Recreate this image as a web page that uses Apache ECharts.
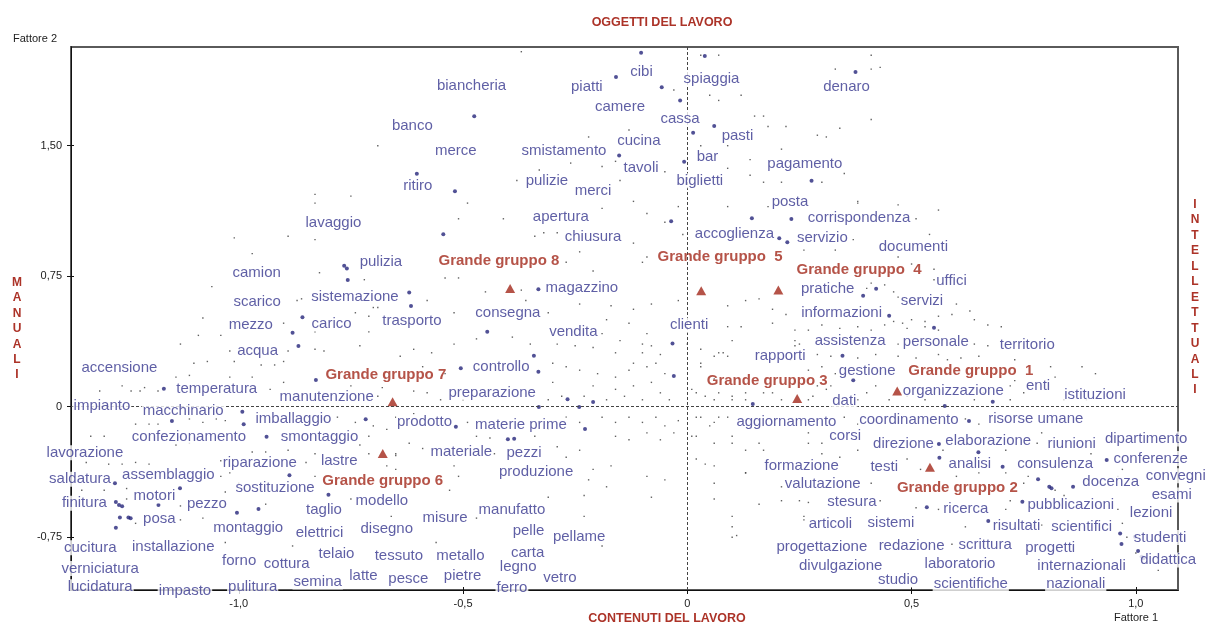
<!DOCTYPE html>
<html><head><meta charset="utf-8">
<script src="https://cdn.jsdelivr.net/npm/echarts@6/dist/echarts.min.js"></script>
<style>html,body{margin:0;padding:0;background:#fff}#c{width:1207px;height:625px}</style>
</head><body><div id="c"></div>
<script>
const FONT = "'Liberation Sans', Arial, sans-serif";
const topTitle = "OGGETTI DEL LAVORO";
const bottomTitle = "CONTENUTI DEL LAVORO";
const leftTitle = "MANUALI";
const rightTitle = "INTELLETTUALI";
const xName = "Fattore 1";
const yName = "Fattore 2";
const xTicks = [-1, -0.5, 0, 0.5, 1];
const xTickLabels = ["-1,0", "-0,5", "0", "0,5", "1,0"];
const yTicks = [-0.75, 0, 0.75, 1.5];
const yTickLabels = ["-0,75", "0", "0,75", "1,50"];
const xRange = [-1.374, 1.094];
const yRange = [-1.053, 2.067];

// word labels: [text, factor1, factor2]
const wordLabels = [
["biancheria",-0.481,1.845],["cibi",-0.102,1.925],["piatti",-0.224,1.836],["spiaggia",0.054,1.883],["camere",-0.150,1.721],["banco",-0.613,1.615],["cassa",-0.016,1.653],["pasti",0.112,1.557],["denaro",0.355,1.839],["merce",-0.516,1.470],["smistamento",-0.275,1.470],["cucina",-0.108,1.527],["bar",0.045,1.433],["tavoli",-0.103,1.370],["pagamento",0.262,1.395],["ritiro",-0.601,1.268],["pulizie",-0.313,1.297],["merci",-0.210,1.240],["biglietti",0.028,1.299],["posta",0.229,1.176],["lavaggio",-0.789,1.057],["apertura",-0.282,1.089],["corrispondenza",0.383,1.083],["chiusura",-0.210,0.974],["accoglienza",0.105,0.991],["servizio",0.301,0.968],["documenti",0.504,0.920],["pulizia",-0.683,0.833],["camion",-0.960,0.770],["uffici",0.589,0.724],["magazzino",-0.235,0.684],["pratiche",0.313,0.675],["sistemazione",-0.741,0.632],["scarico",-0.959,0.603],["servizi",0.523,0.609],["consegna",-0.400,0.540],["informazioni",0.344,0.540],["trasporto",-0.614,0.493],["carico",-0.793,0.475],["mezzo",-0.973,0.470],["clienti",0.004,0.468],["vendita",-0.254,0.429],["assistenza",0.363,0.378],["personale",0.554,0.370],["territorio",0.758,0.355],["acqua",-0.958,0.320],["rapporti",0.207,0.291],["accensione",-1.266,0.226],["controllo",-0.415,0.230],["gestione",0.401,0.207],["enti",0.782,0.119],["temperatura",-1.049,0.103],["organizzazione",0.593,0.092],["preparazione",-0.435,0.080],["istituzioni",0.909,0.067],["manutenzione",-0.804,0.054],["dati",0.350,0.031],["impianto",-1.305,0.006],["macchinario",-1.124,-0.023],["imballaggio",-0.878,-0.067],["risorse umane",0.777,-0.067],["coordinamento",0.494,-0.076],["prodotto",-0.586,-0.086],["aggiornamento",0.221,-0.086],["materie prime",-0.371,-0.105],["corsi",0.352,-0.170],["confezionamento",-1.111,-0.172],["smontaggio",-0.820,-0.172],["dipartimento",1.023,-0.186],["elaborazione",0.671,-0.195],["direzione",0.482,-0.214],["riunioni",0.857,-0.214],["materiale",-0.504,-0.259],["pezzi",-0.364,-0.264],["lavorazione",-1.343,-0.264],["conferenze",1.033,-0.297],["lastre",-0.776,-0.311],["riparazione",-0.953,-0.325],["analisi",0.630,-0.329],["consulenza",0.820,-0.331],["formazione",0.255,-0.339],["testi",0.439,-0.345],["produzione",-0.337,-0.377],["assemblaggio",-1.157,-0.393],["convegni",1.089,-0.397],["saldatura",-1.354,-0.416],["docenza",0.944,-0.431],["valutazione",0.302,-0.444],["sostituzione",-0.919,-0.466],["esami",1.080,-0.507],["motori",-1.188,-0.513],["modello",-0.681,-0.542],["stesura",0.367,-0.549],["finitura",-1.344,-0.555],["pezzo",-1.071,-0.559],["pubblicazioni",0.855,-0.565],["ricerca",0.621,-0.588],["manufatto",-0.391,-0.590],["taglio",-0.810,-0.592],["lezioni",1.034,-0.607],["misure",-0.540,-0.641],["posa",-1.177,-0.647],["sistemi",0.454,-0.670],["articoli",0.319,-0.674],["risultati",0.734,-0.686],["scientifici",0.879,-0.690],["montaggio",-0.979,-0.695],["disegno",-0.670,-0.703],["pelle",-0.354,-0.713],["elettrici",-0.820,-0.723],["pellame",-0.241,-0.747],["studenti",1.054,-0.751],["redazione",0.500,-0.799],["scrittura",0.664,-0.795],["progettazione",0.300,-0.803],["installazione",-1.146,-0.805],["cucitura",-1.331,-0.810],["progetti",0.809,-0.810],["carta",-0.356,-0.837],["telaio",-0.782,-0.843],["tessuto",-0.643,-0.856],["metallo",-0.506,-0.856],["didattica",1.072,-0.881],["forno",-0.999,-0.885],["laboratorio",0.608,-0.904],["cottura",-0.893,-0.900],["divulgazione",0.342,-0.913],["internazionali",0.879,-0.916],["legno",-0.377,-0.920],["verniciatura",-1.309,-0.929],["pietre",-0.501,-0.970],["latte",-0.722,-0.973],["vetro",-0.284,-0.986],["pesce",-0.622,-0.991],["studio",0.470,-0.996],["semina",-0.824,-1.007],["scientifiche",0.632,-1.019],["nazionali",0.866,-1.019],["lucidatura",-1.309,-1.034],["pulitura",-0.969,-1.034],["ferro",-0.391,-1.038],["impasto",-1.120,-1.057]
];

// group labels: [text, factor1, factor2] and group centroids (triangles)
const groupLabels = [
["Grande gruppo  1",0.632,0.207],["Grande gruppo 2",0.602,-0.466],["Grande gruppo 3",0.178,0.149],["Grande gruppo  4",0.383,0.786],
["Grande gruppo  5",0.073,0.859],["Grande gruppo 6",-0.679,-0.425],["Grande gruppo 7",-0.672,0.182],["Grande gruppo 8",-0.420,0.837]
];
const groupPoints = [
[0.468,0.090],[0.541,-0.348],[0.245,0.048],[0.203,0.671],[0.031,0.667],[-0.679,-0.268],[-0.657,0.029],[-0.395,0.680]
];

// labelled words (large dots)
const wordPoints = [
[-0.103,2.034],[-0.159,1.895],[-0.057,1.836],[-0.016,1.759],[0.039,2.016],[-0.475,1.669],[0.060,1.613],[0.013,1.575],[-0.152,1.443],[-0.007,1.408],
[-0.603,1.339],[-0.518,1.238],[0.375,1.924],[0.277,1.299],[-0.544,0.991],[-0.036,1.066],[0.144,1.083],[0.232,1.078],[0.205,0.968],[0.223,0.945],
[-0.765,0.810],[-0.759,0.795],[-0.757,0.728],[-0.332,0.675],[-0.620,0.657],[-0.616,0.579],[-0.858,0.514],[-0.880,0.425],[-0.867,0.349],[-0.446,0.431],
[-0.033,0.364],[-0.342,0.293],[-0.505,0.221],[-0.332,0.201],[-0.030,0.176],[-0.828,0.153],[-1.167,0.103],[-0.267,0.043],[-0.210,0.027],[-0.241,-0.002],
[-0.331,-0.002],[0.146,0.016],[0.421,0.678],[0.392,0.638],[0.450,0.523],[0.550,0.454],[0.346,0.293],[0.370,0.152],[0.574,0.004],[0.681,0.029],
[-0.992,-0.029],[-0.989,-0.101],[-1.149,-0.082],[-0.938,-0.172],[-0.717,-0.072],[-0.887,-0.393],[-1.276,-0.440],[-1.131,-0.469],[-1.274,-0.548],[-1.267,-0.565],
[-1.260,-0.572],[-1.179,-0.565],[-1.004,-0.609],[-0.956,-0.588],[-0.800,-0.505],[-1.265,-0.636],[-1.246,-0.636],[-1.241,-0.641],[-1.274,-0.695],[-0.516,-0.115],
[-0.228,-0.128],[-0.400,-0.187],[-0.386,-0.184],[0.628,-0.082],[0.561,-0.214],[0.562,-0.293],[0.703,-0.345],[0.935,-0.306],[0.782,-0.417],[0.807,-0.460],
[0.812,-0.469],[0.860,-0.460],[0.747,-0.546],[0.534,-0.578],[0.671,-0.657],[0.965,-0.728],[0.998,-0.747],[0.968,-0.789],[1.005,-0.829],[1.013,-0.862],
[1.017,-0.871],[0.649,-0.262]
];

// other words (small dots)
const minorPoints = [
[-0.69,1.50],[-0.83,1.22],[-0.75,1.21],[-0.83,1.17],[-0.37,2.04],[-0.03,1.82],[0.07,2.02],[0.03,2.02],[0.05,1.79],[0.12,1.79],[0.07,1.76],[0.15,1.67],[0.17,1.67],[0.18,1.61],[0.22,1.61],[-0.13,1.59],[-0.22,1.55],[0.03,1.50],[0.09,1.50],[0.21,1.48],
[-0.33,1.36],[-0.26,1.40],[-0.19,1.38],[-0.16,1.41],[-0.05,1.35],[0.09,1.37],[0.14,1.42],[0.14,1.33],[0.17,1.29],[0.21,1.29],[-0.38,1.30],[-0.15,1.30],[-0.12,1.18],[-0.19,1.14],[-0.49,1.17],[0.09,1.15],
[0.41,2.02],[0.33,1.94],[0.41,1.94],[0.43,1.95],[0.41,1.65],[0.34,1.60],[0.29,1.56],[0.31,1.55],[0.35,1.34],[0.30,1.29],[0.38,1.18],[0.47,1.16],
[-1.01,0.97],[-0.89,0.98],[-0.83,0.96],[-0.97,0.88],[-0.82,0.77],[-0.72,0.73],[-1.06,0.69],[-0.87,0.61],[-0.86,0.62],[-0.70,0.57],[-0.69,0.57],[-1.08,0.51],[-0.74,0.54],[-0.71,0.52],[-0.90,0.48],[-0.83,0.43],[-0.71,0.43],[-1.09,0.41],[-1.04,0.41],[-0.73,0.35],
[-1.13,0.36],[-1.02,0.32],[-0.89,0.32],[-0.83,0.33],[-0.81,0.32],[-1.01,0.26],[-0.95,0.24],[-0.92,0.24],[-1.10,0.25],[-1.07,0.26],[-0.90,0.26],[-1.14,0.17],[-1.11,0.18],[-1.02,0.17],[-0.97,0.17],[-0.90,0.14],[-1.31,0.09],[-1.26,0.12],[-1.24,0.09],[-1.21,0.11],
[-1.22,0.09],[-1.18,0.09],[-0.93,0.10],[-0.75,0.12],[-0.68,0.11],[-0.69,0.06],
[-0.51,1.08],[-0.41,1.08],[-0.34,0.98],[-0.32,1.00],[-0.29,1.00],[-0.09,1.11],[-0.02,1.15],[0.18,1.15],[-0.05,1.06],[-0.01,0.99],[-0.12,0.94],[-0.09,0.86],[-0.10,0.83],[-0.24,0.89],[-0.27,0.83],[-0.21,0.78],[-0.51,0.74],[-0.54,0.74],[-0.45,0.66],[-0.37,0.67],
[-0.36,0.61],[-0.58,0.61],[-0.52,0.54],[-0.31,0.54],[-0.24,0.59],[-0.17,0.58],[-0.12,0.56],[-0.08,0.59],[-0.02,0.61],[0.09,0.58],[0.13,0.61],[0.16,0.62],[0.19,0.56],[0.22,0.53],[0.19,0.48],[0.09,0.46],[0.12,0.46],[-0.18,0.50],[-0.13,0.48],[-0.19,0.42],
[-0.09,0.42],[-0.15,0.38],[-0.10,0.36],[-0.08,0.35],[-0.10,0.31],[-0.06,0.30],[-0.12,0.25],[-0.16,0.31],[-0.21,0.34],[-0.25,0.35],[-0.29,0.36],[-0.35,0.36],[-0.39,0.40],[-0.47,0.39],[-0.52,0.36],[-0.57,0.31],[-0.61,0.33],[-0.64,0.29],[-0.59,0.23],[-0.54,0.19],
[-0.30,0.25],[-0.27,0.23],[-0.24,0.21],[-0.20,0.19],[-0.16,0.17],[-0.13,0.21],[-0.09,0.23],[-0.07,0.25],[-0.05,0.19],[-0.08,0.14],[-0.12,0.12],[-0.16,0.10],[-0.21,0.12],[-0.30,0.14],[-0.28,0.06],[-0.31,0.04],[-0.23,0.06],[-0.18,0.04],[-0.14,0.06],[-0.10,0.04],
[-0.06,0.08],[-0.04,0.04],[0.03,0.33],[0.06,0.29],[0.08,0.31],[0.10,0.38],[0.03,0.23],[0.06,0.16],[0.02,0.08],[0.06,0.04],[0.10,0.06],[0.13,0.04],[0.19,0.08],[0.23,0.27],[0.24,0.38],[0.21,0.04],[-0.58,0.08],[-0.61,0.09],[-0.55,0.04],[-0.50,0.04],
[0.38,1.17],[0.56,1.13],[0.51,1.08],[0.37,0.96],[0.54,0.99],[0.26,0.90],[0.33,0.90],[0.47,0.86],[0.50,0.82],[0.55,0.79],[0.55,0.73],[0.41,0.71],[0.44,0.70],[0.40,0.68],[0.46,0.66],[0.47,0.63],[0.60,0.59],[0.63,0.55],[0.59,0.53],[0.56,0.52],
[0.53,0.49],[0.50,0.50],[0.48,0.48],[0.46,0.49],[0.64,0.50],[0.67,0.47],[0.70,0.46],[0.56,0.44],[0.53,0.46],[0.49,0.45],[0.44,0.47],[0.41,0.44],[0.38,0.46],[0.34,0.45],[0.30,0.47],[0.27,0.44],[0.24,0.44],[0.25,0.36],[0.24,0.35],[0.47,0.36],
[0.67,0.35],[0.64,0.36],[0.29,0.30],[0.32,0.29],[0.38,0.28],[0.42,0.30],[0.47,0.29],[0.51,0.28],[0.56,0.30],[0.58,0.27],[0.61,0.28],[0.65,0.29],[0.73,0.27],[0.81,0.23],[0.88,0.23],[0.91,0.19],[0.82,0.17],[0.73,0.15],[0.72,0.12],[0.75,0.08],
[0.72,0.04],[0.66,0.08],[0.64,0.04],[0.53,0.04],[0.49,0.06],[0.45,0.04],[0.42,0.12],[0.40,0.08],[0.38,0.04],[0.32,0.12],[0.29,0.12],[0.27,0.04],[0.33,0.19],[0.30,0.23],[0.27,0.21],[0.84,0.04],[0.89,0.04],
[-1.23,-0.10],[-1.20,-0.10],[-1.18,-0.10],[-1.11,-0.07],[-1.08,-0.09],[-1.05,-0.07],[-1.03,-0.08],[-0.78,-0.06],[-0.74,-0.09],[-0.70,-0.11],[-0.67,-0.13],[-0.71,-0.17],[-1.33,-0.17],[-1.30,-0.17],[-1.14,-0.22],[-1.11,-0.21],[-0.97,-0.26],[-0.94,-0.26],[-0.89,-0.25],[-0.83,-0.27],
[-0.73,-0.22],[-0.71,-0.27],[-0.65,-0.28],[-1.34,-0.32],[-1.29,-0.33],[-1.26,-0.33],[-1.23,-0.32],[-1.20,-0.33],[-1.04,-0.31],[-0.85,-0.32],[-0.67,-0.34],[-1.02,-0.38],[-1.04,-0.40],[-1.00,-0.44],[-0.83,-0.40],[-1.35,-0.48],[-1.30,-0.48],[-1.25,-0.47],[-1.03,-0.49],[-0.94,-0.56],
[-0.75,-0.53],[-1.25,-0.53],[-1.13,-0.57],[-1.08,-0.64],[-1.13,-0.65],[-1.23,-0.67],[-1.03,-0.78],[-0.88,-0.80],
[-0.65,-0.06],[-0.61,-0.04],[-0.49,-0.09],[-0.47,-0.17],[-0.44,-0.18],[-0.34,-0.17],[-0.31,-0.13],[-0.27,-0.06],[-0.24,-0.09],[-0.19,-0.06],[-0.16,-0.09],[-0.13,-0.06],[-0.10,-0.09],[-0.07,-0.06],[-0.05,-0.11],[-0.02,-0.08],[-0.16,-0.17],[-0.13,-0.19],[-0.09,-0.15],[-0.06,-0.19],
[-0.03,-0.15],[0.02,-0.06],[0.05,-0.11],[0.07,-0.06],[0.02,-0.17],[0.06,-0.21],[0.10,-0.17],[0.13,-0.08],[0.16,-0.21],[-0.62,-0.21],[-0.59,-0.24],[-0.65,-0.27],[-0.43,-0.27],[-0.29,-0.23],[-0.27,-0.29],[-0.24,-0.25],[-0.21,-0.36],[-0.17,-0.34],[-0.22,-0.42],[-0.18,-0.46],
[-0.52,-0.34],[-0.51,-0.40],[-0.53,-0.48],[-0.65,-0.36],[-0.09,-0.40],[-0.05,-0.42],[0.02,-0.30],[0.06,-0.34],[0.13,-0.38],[0.06,-0.53],[-0.08,-0.52],[-0.23,-0.51],[-0.31,-0.52],[-0.47,-0.64],[-0.66,-0.63],[-0.56,-0.78],[-0.23,-0.63],[-0.19,-0.80],[0.10,-0.69],[0.11,-0.74],
[0.35,-0.06],[0.38,-0.10],[0.62,-0.07],[0.65,-0.10],[0.27,-0.15],[0.30,-0.21],[0.38,-0.25],[0.49,-0.30],[0.52,-0.36],[0.57,-0.25],[0.60,-0.40],[0.65,-0.38],[0.71,-0.25],[0.71,-0.38],[0.78,-0.21],[0.79,-0.15],[0.76,-0.40],[0.82,-0.48],[0.84,-0.51],[0.75,-0.44],
[0.72,-0.54],[0.71,-0.59],[0.56,-0.59],[0.51,-0.58],[0.41,-0.44],[0.43,-0.54],[0.25,-0.54],[0.26,-0.63],[0.35,-0.57],[0.62,-0.69],[0.79,-0.68],[0.59,-0.79],[0.96,-0.59],[0.97,-0.67],[0.98,-0.75],[1.00,-0.84],[1.05,-0.94],[0.90,-0.27],[0.96,-0.40],[0.97,-0.36],
[0.00,0.36],[0.03,0.25],[0.07,0.31],[0.09,0.29],[0.01,0.10],[0.04,0.06],[0.07,0.08],[0.10,0.04],[0.13,0.08],[0.17,0.08],[0.28,0.06],[0.31,0.10],[0.03,-0.06],[0.06,-0.09],[0.09,-0.06],[0.01,-0.17],[0.10,-0.21],[0.13,-0.25],[0.17,-0.25],[0.27,-0.21],
[0.30,-0.27],[0.34,-0.29],[0.04,-0.33],[0.13,-0.38],[0.06,-0.44],[0.21,-0.46],[0.16,-0.56],[0.21,-0.54],[0.27,-0.55],[0.10,-0.63],[0.26,-0.65],[0.10,-0.75]
];

const fmt = (ticks, labels) => v => { const i = ticks.findIndex(t => Math.abs(t - v) < 1e-6); return i >= 0 ? labels[i] : ''; };

const baseX = {
  type: 'value', min: xRange[0], max: xRange[1], position: 'bottom',
  axisLine: {show: true, onZero: false, lineStyle: {color: '#111', width: 1}},
  splitLine: {show: false}
};
const baseY = {
  type: 'value', min: yRange[0], max: yRange[1], position: 'left',
  axisLine: {show: true, onZero: false, lineStyle: {color: '#111', width: 1}},
  splitLine: {show: false}
};

const chart = echarts.init(document.getElementById('c'), null, {renderer: 'canvas'});
chart.setOption({
  animation: false,
  backgroundColor: '#fff',
  textStyle: {fontFamily: FONT},
  grid: {left: 71, right: 29, top: 47, bottom: 35, show: true, borderColor: '#5a5a5a', borderWidth: 2, backgroundColor: 'transparent'},
  xAxis: [
    Object.assign({}, baseX, {
      axisTick: {show: true, length: 4, customValues: xTicks, lineStyle: {color: '#111'}},
      axisLabel: {customValues: xTicks, formatter: fmt(xTicks, xTickLabels), color: '#222', fontSize: 11, margin: 8, fontFamily: FONT}
    }),
    Object.assign({}, baseX, {
      axisTick: {show: true, inside: true, length: 3, customValues: xTicks, lineStyle: {color: '#111'}},
      axisLabel: {show: false}
    })
  ],
  yAxis: [
    Object.assign({}, baseY, {
      axisTick: {show: true, length: 4, customValues: yTicks, lineStyle: {color: '#111'}},
      axisLabel: {customValues: yTicks, formatter: fmt(yTicks, yTickLabels), color: '#222', fontSize: 11, margin: 9, fontFamily: FONT}
    }),
    Object.assign({}, baseY, {
      axisTick: {show: true, inside: true, length: 3, customValues: yTicks, lineStyle: {color: '#111'}},
      axisLabel: {show: false}
    })
  ],
  series: [
    {
      type: 'scatter', name: 'minor', data: minorPoints, symbol: 'rect', symbolSize: 1.4,
      itemStyle: {color: '#3a3a3a'}, z: 2, silent: true,
      markLine: {
        silent: true, symbol: 'none', animation: false,
        lineStyle: {color: '#444', width: 1, type: [3, 2]},
        label: {show: false},
        data: [{xAxis: 0}, {yAxis: 0}]
      }
    },
    {
      type: 'scatter', name: 'words', data: wordPoints, symbol: 'circle', symbolSize: 4,
      itemStyle: {color: '#26267a'}, z: 3, silent: true
    },
    {
      type: 'scatter', name: 'groups', data: groupPoints, symbol: 'triangle', symbolSize: [10, 9],
      itemStyle: {color: '#a3281a'}, z: 4, silent: true
    },
    {
      type: 'scatter', name: 'wordLabels', clip: false, z: 10, silent: true,
      data: wordLabels.map(d => ({value: [d[1], d[2]], name: d[0]})),
      symbolSize: 0,
      label: {show: true, position: 'inside', formatter: p => p.name, color: '#37378f', fontSize: 15, fontFamily: FONT,
        backgroundColor: '#fff', padding: [0, 1]}
    },
    {
      type: 'scatter', name: 'groupLabels', clip: false, z: 11, silent: true,
      data: groupLabels.map(d => ({value: [d[1], d[2]], name: d[0]})),
      symbolSize: 0,
      label: {show: true, position: 'inside', formatter: p => p.name, color: '#a3281a', fontSize: 15, fontWeight: 'bold', fontFamily: FONT}
    }
  ],
  graphic: [
    {type: 'text', style: {text: topTitle, x: 662, y: 23, fill: '#ac3328', font: 'bold 12.5px ' + FONT, align: 'center', verticalAlign: 'middle'}},
    {type: 'text', style: {text: bottomTitle, x: 667, y: 619, fill: '#ac3328', font: 'bold 12.5px ' + FONT, align: 'center', verticalAlign: 'middle'}},
    {type: 'text', style: {text: leftTitle.split('').join('\n'), x: 17, y: 275, fill: '#ac3328', font: 'bold 12px ' + FONT, align: 'center', verticalAlign: 'top', lineHeight: 15.4}},
    {type: 'text', style: {text: rightTitle.split('').join('\n'), x: 1195, y: 197, fill: '#ac3328', font: 'bold 12px ' + FONT, align: 'center', verticalAlign: 'top', lineHeight: 15.45}},
    {type: 'text', style: {text: yName, x: 35, y: 39, fill: '#222', font: '11px ' + FONT, align: 'center', verticalAlign: 'middle'}},
    {type: 'text', style: {text: xName, x: 1136, y: 618, fill: '#222', font: '11px ' + FONT, align: 'center', verticalAlign: 'middle'}}
  ]
});
</script>
</body></html>
